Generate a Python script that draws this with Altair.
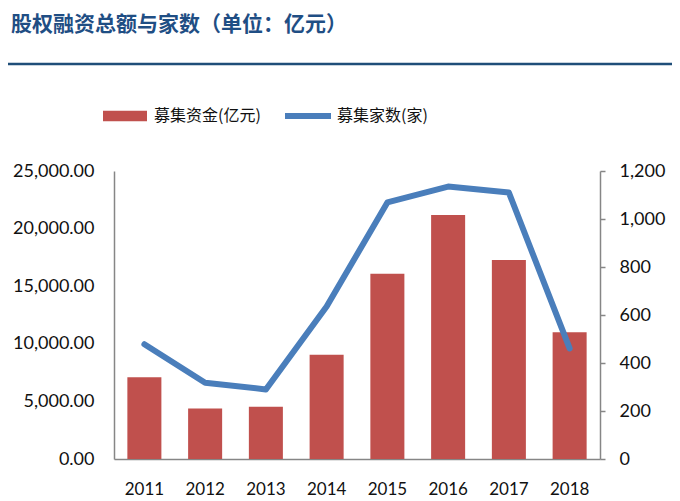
import altair as alt
import pandas as pd

title_text = "股权融资总额与家数（单位：亿元）"
years = ["2011", "2012", "2013", "2014", "2015", "2016", "2017", "2018"]
amount = [7100, 4380, 4540, 9060, 16090, 21180, 17270, 11000]
count = [478, 318, 290, 635, 1069, 1135, 1110, 461]
bar_name = "募集资金(亿元)"
line_name = "募集家数(家)"

df = pd.DataFrame({"year": years, "amount": amount, "count": count,
                   "bar_s": [bar_name] * len(years), "line_s": [line_name] * len(years)})

NUM_FONT = "Lato"
CJK_FONT = "Noto Sans CJK SC"
AXIS_GRAY = "#868686"

x_enc = alt.X("year:N", sort=years,
              scale=alt.Scale(paddingInner=0.44, paddingOuter=0.22),
              axis=alt.Axis(title=None, labelAngle=0, ticks=False, tickSize=0,
                            labelPadding=22, labelFont=NUM_FONT, labelFontSize=17,
                            labelColor="#111111", domainColor=AXIS_GRAY, domainWidth=1.5))

bars = alt.Chart(df).mark_bar(color="#C0504D").encode(
    x=x_enc,
    y=alt.Y("amount:Q", scale=alt.Scale(domain=[0, 25000], nice=False),
            axis=alt.Axis(title=None, orient="left", values=[0, 5000, 10000, 15000, 20000, 25000],
                          format=",.2f", grid=False, ticks=False, tickSize=0, labelPadding=20,
                          labelFont=NUM_FONT, labelFontSize=18, labelColor="#111111",
                          domainColor=AXIS_GRAY, domainWidth=1.5)),
    color=alt.Color("bar_s:N", scale=alt.Scale(domain=[bar_name], range=["#C0504D"]),
                    legend=alt.Legend(title=None, orient="none", legendX=-11, legendY=-77,
                                      symbolType="M-1,-0.24H1V0.24H-1Z", symbolSize=1936,
                                      symbolStrokeWidth=0, labelOffset=7,
                                      labelFont=CJK_FONT, labelFontSize=16, labelColor="#111111",
                                      labelLimit=300)),
)

line = alt.Chart(df).mark_line(strokeWidth=6, strokeCap="round", strokeJoin="round").encode(
    x=alt.X("year:N", sort=years),
    y=alt.Y("count:Q", scale=alt.Scale(domain=[0, 1200], nice=False),
            axis=alt.Axis(title=None, orient="right", values=[0, 200, 400, 600, 800, 1000, 1200],
                          format=",.0f", grid=False, ticks=True, tickSize=5, tickColor=AXIS_GRAY,
                          tickWidth=1.5, labelPadding=14, labelFont=NUM_FONT, labelFontSize=18,
                          labelColor="#111111", domainColor=AXIS_GRAY, domainWidth=1.5)),
    stroke=alt.Stroke("line_s:N", scale=alt.Scale(domain=[line_name], range=["#4A7EBB"]),
                      legend=alt.Legend(title=None, orient="none", legendX=168, legendY=-81,
                                        symbolType="stroke", symbolSize=2116, symbolStrokeWidth=6,
                                        labelOffset=3, labelFont=CJK_FONT, labelFontSize=16,
                                        labelColor="#111111", labelLimit=300)),
)

sep = alt.Chart(pd.DataFrame({"t": [title_text]})).mark_rule(
    color="#1F4E79", strokeWidth=2.5).encode(
    x=alt.value(-106), x2=alt.value(558), y=alt.value(-107))

chart = alt.layer(bars, line, sep).resolve_scale(
    y="independent", color="independent", stroke="independent"
).properties(
    width=486, height=288,
    padding={"left": 106, "top": 163, "right": 72, "bottom": 44},
    autosize=alt.AutoSizeParams(type="none"),
    title=alt.TitleParams(title_text, anchor="start", frame="group", orient="top",
                          dx=-103, dy=-17, offset=0, baseline="middle",
                          font=CJK_FONT, fontSize=21, fontWeight="bold", color="#1F4E84"),
).configure_view(stroke=None)

chart.save("out.html", embed_options={"renderer": "svg", "actions": False})
